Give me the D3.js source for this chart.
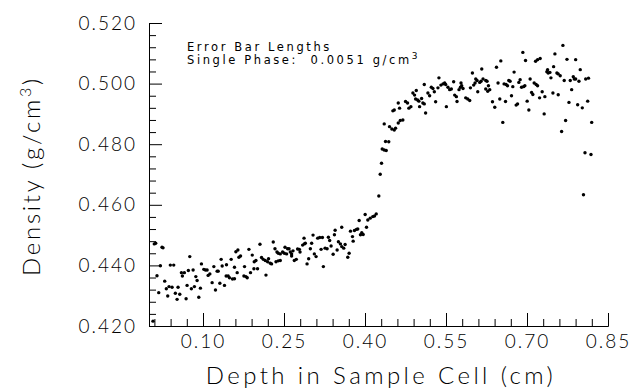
<!DOCTYPE html>
<html>
<head>
<meta charset="utf-8">
<script src="https://cdn.jsdelivr.net/npm/d3@7"></script>
<style>
  body { margin: 0; background: #fff; }
  text { font-family: Lato, "Open Sans", sans-serif; font-weight: 300; fill: #000; }
</style>
</head>
<body>
<div class="chart-container"></div>
<script>
//! DATA
const depth = [
  0.0074, 0.0098, 0.0124, 0.0241, 0.0260, 0.0210, 0.0148, 0.0180, 0.0291, 0.0321,
  0.0347, 0.0371, 0.0427, 0.0395, 0.0458, 0.0488, 0.0520, 0.0538, 0.0570, 0.0600,
  0.0655, 0.0618, 0.0687, 0.0705, 0.0729, 0.0755, 0.0785, 0.0817, 0.0841, 0.0867,
  0.0891, 0.0922, 0.0952, 0.0971, 0.1015, 0.1045, 0.1076, 0.1095, 0.1127, 0.1169,
  0.1201, 0.1231, 0.1262, 0.1281, 0.1312, 0.1336, 0.1355, 0.1398, 0.1435, 0.1429,
  0.1466, 0.1490, 0.1522, 0.1546, 0.1583, 0.1583, 0.1609, 0.1646, 0.1665, 0.1695,
  0.1633, 0.1758, 0.1795, 0.1819, 0.1769, 0.1850, 0.1880, 0.1912, 0.1943,
  0.1949, 0.1980, 0.2010, 0.2055, 0.2084, 0.2116, 0.2153, 0.2214, 0.2196, 0.2166,
  0.2246, 0.2270, 0.2301, 0.2333, 0.2352, 0.2394, 0.2431, 0.2370, 0.2394, 0.2431,
  0.2474, 0.2506, 0.2519, 0.2567, 0.2593, 0.2548, 0.2617, 0.2641, 0.2667, 0.2641,
  0.2691, 0.2728, 0.2752, 0.2784, 0.2797, 0.2845, 0.2877, 0.2895, 0.2871, 0.2927,
  0.2957, 0.2988, 0.3012, 0.3038, 0.3062, 0.3094, 0.3124, 0.3161, 0.3211, 0.3187,
  0.3229, 0.3261, 0.3298, 0.3322, 0.3346, 0.3372, 0.3410, 0.3434, 0.3447, 0.3484,
  0.3508, 0.3545, 0.3569, 0.3606, 0.3569, 0.3632, 0.3681, 0.3706, 0.3731, 0.3768,
  0.3781, 0.3805, 0.3842, 0.3866, 0.3892, 0.3916, 0.3940, 0.3966, 0.4003, 0.4028,
  0.4052, 0.4096, 0.4144, 0.4176, 0.4208, 0.4256, 0.4282, 0.4306, 0.4319, 0.4356,
  0.4393, 0.4380, 0.4440, 0.4356, 0.4454, 0.4497, 0.4542, 0.4566, 0.4616, 0.4516,
  0.4542, 0.4616, 0.4640, 0.4653, 0.4701, 0.4751, 0.4788, 0.4813, 0.4850, 0.4887,
  0.4918, 0.4937, 0.4974, 0.4998, 0.4950, 0.5011, 0.5048, 0.5072, 0.5098, 0.5098,
  0.5122, 0.5165, 0.5197, 0.5228, 0.5258, 0.5284, 0.5308, 0.5351, 0.5369, 0.5406,
  0.5444, 0.5475, 0.5494, 0.5507, 0.5536, 0.5568, 0.5599, 0.5642, 0.5661, 0.5692,
  0.5704, 0.5741, 0.5767, 0.5791, 0.5815, 0.5778, 0.5865, 0.5902, 0.5939, 0.5952,
  0.5989, 0.6013, 0.6038, 0.6051, 0.6075, 0.6088, 0.6125, 0.6149, 0.6162, 0.6186,
  0.6236, 0.6260, 0.6236, 0.6273, 0.6310, 0.6286, 0.6361, 0.6403, 0.6435, 0.6464,
  0.6496, 0.6515, 0.6552, 0.6576, 0.6613, 0.6639, 0.6602, 0.6663, 0.6687, 0.6713,
  0.6737, 0.6761, 0.6799, 0.6825, 0.6849, 0.6873, 0.6899, 0.6936, 0.6960, 0.6923,
  0.6973, 0.7003, 0.7034, 0.7058, 0.7085, 0.7108, 0.7133, 0.7170, 0.7196, 0.7159,
  0.7196, 0.7244, 0.7233, 0.7281, 0.7318, 0.7331, 0.7368, 0.7393, 0.7424, 0.7381,
  0.7443, 0.7480, 0.7493, 0.7517, 0.7554, 0.7578, 0.7578, 0.7615, 0.7641, 0.7665,
  0.7689, 0.7715, 0.7740, 0.7777, 0.7801, 0.7827, 0.7857, 0.7875, 0.7901, 0.7901,
  0.7938, 0.7962, 0.7986, 0.8024, 0.8087, 0.8139, 0.8124, 0.8198, 0.8046, 0.8074,
  0.8185
];
const density = [
  0.4216, 0.4471, 0.4473, 0.4460, 0.4458, 0.4399, 0.4366, 0.4310, 0.4348, 0.4323,
  0.4299, 0.4330, 0.4328, 0.4401, 0.4401, 0.4308, 0.4288, 0.4328, 0.4305, 0.4376,
  0.4376, 0.4365, 0.4290, 0.4334, 0.4383, 0.4429, 0.4323, 0.4385, 0.4330, 0.4363,
  0.4350, 0.4295, 0.4325, 0.4405, 0.4387, 0.4385, 0.4385, 0.4367, 0.4372, 0.4343,
  0.4396, 0.4319, 0.4381, 0.4381, 0.4341, 0.4420, 0.4398, 0.4334, 0.4402, 0.4365,
  0.4365, 0.4359, 0.4420, 0.4355, 0.4356, 0.4394, 0.4445, 0.4451, 0.4427, 0.4431,
  0.4376, 0.4365, 0.4363, 0.4359, 0.4396, 0.4453, 0.4376, 0.4434, 0.4389,
  0.4412, 0.4416, 0.4389, 0.4470, 0.4426, 0.4420, 0.4416, 0.4422, 0.4412, 0.4368,
  0.4407, 0.4405, 0.4477, 0.4455, 0.4412, 0.4415, 0.4416, 0.4444, 0.4440, 0.4438,
  0.4444, 0.4440, 0.4460, 0.4455, 0.4455, 0.4438, 0.4444, 0.4438, 0.4448, 0.4431,
  0.4416, 0.4420, 0.4454, 0.4453, 0.4444, 0.4467, 0.4471, 0.4473, 0.4490, 0.4405,
  0.4422, 0.4455, 0.4473, 0.4500, 0.4438, 0.4429, 0.4490, 0.4492, 0.4492, 0.4453,
  0.4396, 0.4457, 0.4455, 0.4493, 0.4482, 0.4464, 0.4437, 0.4501, 0.4516, 0.4451,
  0.4478, 0.4471, 0.4462, 0.4457, 0.4526, 0.4469, 0.4427, 0.4440, 0.4513, 0.4495,
  0.4480, 0.4515, 0.4519, 0.4520, 0.4548, 0.4501, 0.4508, 0.4502, 0.4568, 0.4526,
  0.4550, 0.4556, 0.4561, 0.4563, 0.4570, 0.4629, 0.4701, 0.4737, 0.4784, 0.4781,
  0.4779, 0.4809, 0.4808, 0.4867, 0.4858, 0.4850, 0.4847, 0.4853, 0.4870, 0.4910,
  0.4913, 0.4936, 0.4919, 0.4878, 0.4880, 0.4941, 0.4936, 0.4919, 0.4924, 0.4969,
  0.4962, 0.4949, 0.4946, 0.4942, 0.4977, 0.4924, 0.4951, 0.4936, 0.4933, 0.4997,
  0.4903, 0.4969, 0.4960, 0.4988, 0.4984, 0.4973, 0.4940, 0.4986, 0.5019, 0.4995,
  0.4999, 0.5002, 0.4997, 0.4924, 0.4988, 0.4980, 0.4982, 0.5006, 0.4962, 0.4957,
  0.4941, 0.4980, 0.4988, 0.4993, 0.4984, 0.5002, 0.4953, 0.4949, 0.4944, 0.4986,
  0.5035, 0.4995, 0.5002, 0.5015, 0.5010, 0.4973, 0.5004, 0.5008, 0.5048, 0.5015,
  0.5010, 0.5008, 0.4982, 0.4975, 0.4980, 0.4993, 0.4940, 0.4922, 0.5054, 0.5002,
  0.4949, 0.5075, 0.4872, 0.4999, 0.4997, 0.4993, 0.4941, 0.5010, 0.5008, 0.4960,
  0.4990, 0.5038, 0.4929, 0.4933, 0.5004, 0.5013, 0.4988, 0.4990, 0.4993, 0.5103,
  0.5076, 0.4942, 0.4913, 0.5015, 0.4971, 0.4964, 0.5002, 0.4997, 0.4993, 0.5074,
  0.5079, 0.5083, 0.4953, 0.4973, 0.4900, 0.4957, 0.5039, 0.5035, 0.5037, 0.5046,
  0.5019, 0.4969, 0.5056, 0.5098, 0.5035, 0.5032, 0.4963, 0.5026, 0.4842, 0.5126,
  0.5010, 0.4878, 0.5080, 0.4938, 0.5010, 0.4980, 0.5023, 0.5015, 0.5015, 0.5079,
  0.4930, 0.5008, 0.5046, 0.4920, 0.5015, 0.5018, 0.4942, 0.4872, 0.4633, 0.4772,
  0.4766
];
const xMajorTicks = [0.10, 0.25, 0.40, 0.55, 0.70, 0.85];
const xMinorTicks = [0.01, 0.04, 0.07, 0.13, 0.16, 0.19, 0.22, 0.28, 0.31, 0.34, 0.37,
  0.43, 0.46, 0.49, 0.52, 0.58, 0.61, 0.64, 0.67, 0.73, 0.76, 0.79, 0.82];
const yMajorTicks = [0.42, 0.44, 0.46, 0.48, 0.50, 0.52];
const yMinorTicks = d3.range(0, 26).map(i => +(0.42 + i * 0.004).toFixed(3))
  .filter(v => !yMajorTicks.includes(v));

//! CONSTS
const WIDTH = 636;
const HEIGHT = 389;
const LEFT = 149, RIGHT = 608, TOP = 23, BOTTOM = 326;
const MAJOR = 13, MINOR = 7;

const svg = d3.select('.chart-container')
  .append('svg')
  .attr('width', WIDTH)
  .attr('height', HEIGHT);

//! SCALES
const xScale = d3.scaleLinear().domain([0, 0.85]).range([LEFT, RIGHT]);
const yScale = d3.scaleLinear().domain([0.42, 0.52]).range([BOTTOM, TOP]);

//! AXES
const xAxis = d3.axisBottom(xScale)
  .tickValues(xMajorTicks)
  .tickFormat(d3.format('.2f'))
  .tickSize(-MAJOR)
  .tickSizeOuter(0)
  .tickPadding(9);
const xMinor = d3.axisBottom(xScale)
  .tickValues(xMinorTicks)
  .tickFormat('')
  .tickSize(-MINOR)
  .tickSizeOuter(0);
const yAxis = d3.axisLeft(yScale)
  .tickValues(yMajorTicks)
  .tickFormat(d3.format('.3f'))
  .tickSize(-MAJOR)
  .tickSizeOuter(0)
  .tickPadding(12);
const yMinor = d3.axisLeft(yScale)
  .tickValues(yMinorTicks)
  .tickFormat('')
  .tickSize(-MINOR)
  .tickSizeOuter(0);

const styleAxis = g => {
  g.selectAll('path, line').attr('stroke', '#000').attr('stroke-width', 1);
  g.selectAll('text')
    .attr('fill', '#000')
    .style('font-family', 'Lato, "Open Sans", sans-serif')
    .style('font-weight', 300)
    .style('font-size', '19px')
    .style('letter-spacing', '2px');
};

svg.append('g').attr('transform', `translate(0,${BOTTOM})`).call(xMinor).call(styleAxis);
svg.append('g').attr('transform', `translate(0,${BOTTOM})`).call(xAxis).call(styleAxis);
svg.append('g').attr('transform', `translate(${LEFT},0)`).call(yMinor).call(styleAxis);
svg.append('g').attr('transform', `translate(${LEFT},0)`).call(yAxis).call(styleAxis);

//! DOTS
svg.append('g')
  .selectAll('circle')
  .data(depth.map((d, i) => ({ depth: d, density: density[i] })))
  .enter()
  .append('circle')
  .attr('cx', d => xScale(d.depth))
  .attr('cy', d => yScale(d.density))
  .attr('r', 1.7)
  .attr('fill', '#000');

//! TITLES
svg.append('text')
  .attr('x', 381)
  .attr('y', 384)
  .attr('text-anchor', 'middle')
  .style('font-size', '24px')
  .style('letter-spacing', '3.4px')
  .text('Depth in Sample Cell (cm)');

const yTitle = svg.append('text')
  .attr('transform', 'translate(40,176) rotate(-90)')
  .attr('text-anchor', 'middle')
  .style('font-size', '24px')
  .style('letter-spacing', '2.7px');
yTitle.append('tspan').text('Density (g/cm');
yTitle.append('tspan').attr('dy', -9).style('font-size', '16px').text('3');
yTitle.append('tspan').attr('dy', 9).text(')');

//! NOTE
const noteStyle = t => t
  .attr('x', 187)
  .style('font-family', '"DejaVu Sans", sans-serif')
  .style('font-weight', 400)
  .style('font-size', '11.5px')
  .style('letter-spacing', '2.6px')
  .style('white-space', 'pre');

svg.append('text')
  .attr('y', 50.5)
  .call(noteStyle)
  .text('Error Bar Lengths');

const note2 = svg.append('text')
  .attr('y', 64)
  .call(noteStyle);
note2.append('tspan').text('Single Phase:  0.0051 g/cm');
note2.append('tspan').attr('dy', -5).style('font-size', '9px').text('3');
</script>
</body>
</html>
